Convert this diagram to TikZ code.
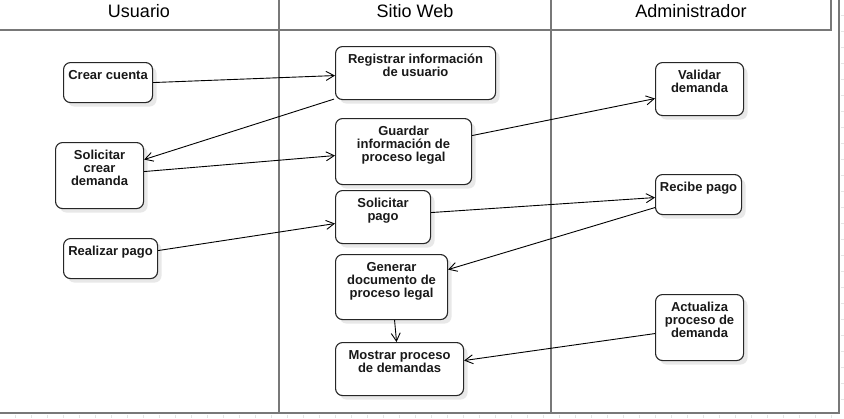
\documentclass[tikz,border=0pt]{standalone}
\usepackage{fontspec}
\setmainfont{Liberation Sans}
\usetikzlibrary{arrows.meta,calc,shadows}
\definecolor{lanegray}{RGB}{120,120,120}
\definecolor{gridgray}{RGB}{228,228,228}
\begin{document}
\begin{tikzpicture}[x=1pt,y=-1pt,
  lane/.style={draw=lanegray, line width=1.6pt},
  head/.style={font=\fontsize{18}{21}\selectfont, inner sep=0pt},
  act/.style={draw=black!85, line width=1.1pt, rounded corners=7pt, fill=white,
    inner sep=0pt, anchor=north west,
    drop shadow={shadow xshift=4pt, shadow yshift=-4pt, fill=black!9, opacity=1}},
  txt/.style={font=\bfseries\fontsize{13}{12.9}\selectfont, align=center, inner sep=0pt,
    anchor=north, yshift=-8pt, text=black!90},
  flow/.style={draw=black, line width=0.9pt, -{Straight Barb[length=8pt,width=9pt]}}
]
\useasboundingbox (0,0) rectangle (844,418);
\fill[white] (0,0) rectangle (844,418);
% background grid ticks
\foreach \gx in {15,31,...,831} \draw[gridgray, line width=0.8pt] (\gx,415) -- (\gx,418);
\foreach \gy in {15,31,...,399} \draw[gridgray, line width=0.8pt] (841,\gy) -- (844,\gy);
% lanes
\draw[lane] (279,0) -- (279,413);
\draw[lane] (551,0) -- (551,413);
\draw[lane] (839,0) -- (839,413.5);
\draw[lane] (0,413) -- (839.8,413);
\draw[lane] (0,30) -- (831,30) -- (831,0);
\node[head] (hu) at (139,11) {Usuario};
\node[head] (hs) at (415,11) {Sitio Web};
\node[head] (ha) at (691,11) {Administrador};
% activities
\node[act, minimum width=89pt, minimum height=40pt,
  label={[txt]north:Crear cuenta}] (crear) at (63,62) {};
\node[act, minimum width=88pt, minimum height=66pt,
  label={[txt]north:{Solicitar\\crear\\demanda}}] (scd) at (55,142) {};
\node[act, minimum width=94pt, minimum height=40pt,
  label={[txt]north:Realizar pago}] (realizar) at (63,238) {};
\node[act, minimum width=160pt, minimum height=53pt,
  label={[txt]north:{Registrar información\\de usuario}}] (reg) at (335,46) {};
\node[act, minimum width=136pt, minimum height=66pt,
  label={[txt]north:{Guardar\\información de\\proceso legal}}] (guardar) at (335,118) {};
\node[act, minimum width=95pt, minimum height=53pt,
  label={[txt]north:{Solicitar\\pago}}] (spago) at (335,190) {};
\node[act, minimum width=112pt, minimum height=65pt,
  label={[txt]north:{Generar\\documento de\\proceso legal}}] (generar) at (335,254) {};
\node[act, minimum width=128pt, minimum height=53pt,
  label={[txt]north:{Mostrar proceso\\de demandas}}] (mostrar) at (335,342) {};
\node[act, minimum width=88pt, minimum height=53pt,
  label={[txt]north:{Validar\\demanda}}] (validar) at (655,62) {};
\node[act, minimum width=86pt, minimum height=40pt,
  label={[txt]north:Recibe pago}] (recibe) at (655,174) {};
\node[act, minimum width=88pt, minimum height=66pt,
  label={[txt]north:{Actualiza\\proceso de\\demanda}}] (actualiza) at (655,294) {};
% connectors
\draw[flow] (crear.east) -- ($(reg.west)+(0,2.5)$);
\draw[flow] ($(reg.south west)+(-1,-1)$) -- ($(scd.east)+(0,-16)$);
\draw[flow] ($(scd.east)+(0,-4)$) -- ($(guardar.west)+(0,4)$);
\draw[flow] ($(guardar.east)+(0,-16)$) -- ($(validar.west)+(0,9.5)$);
\draw[flow] ($(realizar.east)+(0,-8)$) -- ($(spago.west)+(0,6.5)$);
\draw[flow] ($(spago.east)+(0,-4.5)$) -- ($(recibe.west)+(0,3)$);
\draw[flow] ($(recibe.west)+(0,13)$) -- ($(generar.east)+(0,-17.5)$);
\draw[flow] ($(generar.south)+(3,0)$) -- ($(mostrar.north)+(-3,0)$);
\draw[flow] ($(actualiza.west)+(0,6)$) -- ($(mostrar.east)+(0,-8.5)$);
\end{tikzpicture}
\end{document}
